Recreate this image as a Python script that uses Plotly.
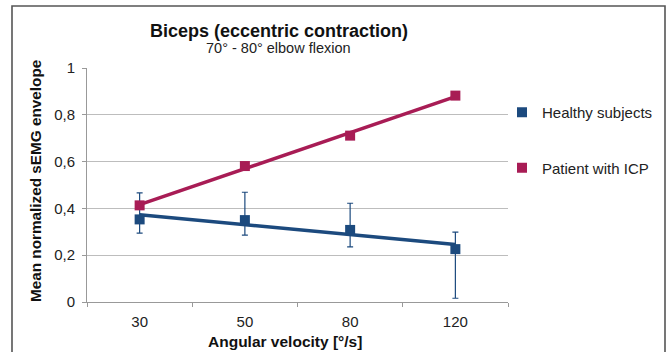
import numpy as np
import plotly.graph_objects as go

categories = ["30", "50", "80", "120"]
healthy = [0.353, 0.35, 0.308, 0.226]
healthy_err_plus = [0.113, 0.119, 0.114, 0.073]
healthy_err_minus = [0.059, 0.064, 0.072, 0.21]
patient = [0.413, 0.581, 0.711, 0.882]
y_ticks = [0, 0.2, 0.4, 0.6, 0.8, 1]
y_ticklabels = ["0", "0,2", "0,4", "0,6", "0,8", "1"]

BLUE = "#1c4a7e"
PINK = "#a81c55"
FONT = "Liberation Sans, Arial, sans-serif"

idx = np.arange(len(categories))
hb = np.polyfit(idx, healthy, 1)
pb = np.polyfit(idx, patient, 1)
ends = [0, len(categories) - 1]

fig = go.Figure()
fig.add_trace(go.Scatter(
    x=[categories[i] for i in ends], y=[np.polyval(hb, i) for i in ends],
    mode="lines", line=dict(color=BLUE, width=3.5), showlegend=False, hoverinfo="skip"))
fig.add_trace(go.Scatter(
    x=[categories[i] for i in ends], y=[np.polyval(pb, i) for i in ends],
    mode="lines", line=dict(color=PINK, width=3.5), showlegend=False, hoverinfo="skip"))
fig.add_trace(go.Scatter(
    x=categories, y=healthy, mode="markers", name="Healthy subjects",
    legendgroup="h",
    marker=dict(symbol="square", size=10, color=BLUE),
    error_y=dict(type="data", symmetric=False, array=healthy_err_plus,
                 arrayminus=healthy_err_minus, color=BLUE, thickness=1.2, width=3)))
fig.add_trace(go.Scatter(
    x=categories, y=patient, mode="markers", name="Patient with ICP",
    legendgroup="p",
    marker=dict(symbol="square", size=10, color=PINK)))

L, R, T, B = 87, 159, 68, 50
W, H = 667, 352
pw, ph = W - L - R, H - T - B

def px(x):
    return (x - L) / pw

def py(y):
    return (H - B - y) / ph

fig.add_shape(type="rect", xref="paper", yref="paper",
              x0=px(12), x1=px(665), y0=py(370), y1=py(6),
              line=dict(color="#555555", width=1.6), layer="below")

annotations = [
    dict(text="<b>Biceps (eccentric contraction)</b>", x=px(279), y=py(31),
         font=dict(size=18, family=FONT, color="#111111")),
    dict(text="70° - 80° elbow flexion", x=px(278), y=py(48),
         font=dict(size=14.5, family=FONT, color="#222222")),
    dict(text="<b>Angular velocity [°/s]</b>", x=px(285), y=py(341),
         font=dict(size=15.5, family=FONT, color="#111111")),
    dict(text="<b>Mean normalized sEMG envelope</b>", x=px(35), y=py(181),
         textangle=-90, font=dict(size=15.3, family=FONT, color="#111111")),
]
for a in annotations:
    a.update(xref="paper", yref="paper", xanchor="center", yanchor="middle",
             showarrow=False)

fig.update_layout(
    width=W, height=H,
    margin=dict(l=L, r=R, t=T, b=B, pad=0, autoexpand=False),
    paper_bgcolor="white", plot_bgcolor="white",
    font=dict(family=FONT, color="#222222", size=15),
    annotations=annotations,
    showlegend=True,
    legend=dict(x=px(502), xanchor="left", y=py(96), yanchor="top",
                font=dict(size=15, family=FONT, color="#222222"),
                tracegroupgap=33, bgcolor="rgba(0,0,0,0)",
                itemwidth=30),
    xaxis=dict(
        type="category", categoryorder="array", categoryarray=categories,
        tickson="boundaries", ticks="outside", ticklen=4, tickcolor="#999999",
        showline=True, linecolor="#999999", linewidth=1, showgrid=False,
        ticklabelstandoff=6,
        tickfont=dict(size=15, family=FONT, color="#222222"),
        range=[-0.5, 3.5]),
    yaxis=dict(
        range=[0, 1], tickvals=y_ticks, ticktext=y_ticklabels,
        ticks="outside", ticklen=4, tickcolor="#999999",
        showline=True, linecolor="#999999", linewidth=1,
        showgrid=True, gridcolor="#bdbdbd", gridwidth=1, zeroline=False,
        ticklabelstandoff=4,
        tickfont=dict(size=15, family=FONT, color="#222222")),
)

fig.write_html("out.html")
